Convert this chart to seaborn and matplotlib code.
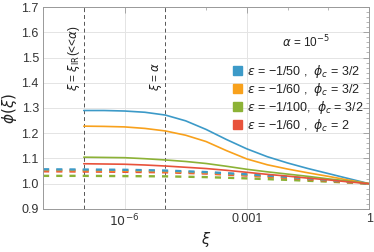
import numpy as np
import pandas as pd
import matplotlib
matplotlib.use("Agg")
import matplotlib.pyplot as plt
import matplotlib.ticker as mticker
import matplotlib.transforms as mtransforms
from matplotlib.patches import Patch
import seaborn as sns

log_xi_solid = [-7, -6.5, -6, -5.5, -5, -4.5, -4, -3.5, -3, -2.5, -2, -1.5, -1, -0.5, 0]
phi_blue = [1.290, 1.290, 1.288, 1.283, 1.272, 1.249, 1.215, 1.175, 1.138, 1.107, 1.082, 1.060, 1.040, 1.020, 1.000]
phi_orange = [1.228, 1.227, 1.225, 1.219, 1.209, 1.192, 1.167, 1.131, 1.098, 1.075, 1.058, 1.043, 1.029, 1.014, 1.000]
phi_green = [1.105, 1.104, 1.103, 1.099, 1.094, 1.088, 1.080, 1.069, 1.057, 1.047, 1.038, 1.029, 1.019, 1.010, 1.000]
phi_red = [1.079, 1.078, 1.077, 1.074, 1.070, 1.065, 1.060, 1.053, 1.045, 1.037, 1.030, 1.022, 1.015, 1.007, 1.000]

# dashed curves, one value per decade
log_xi_dashed = [-8, -7, -6, -5, -4, -3, -2, -1, 0]
dash_blue = [1.057, 1.056, 1.055, 1.052, 1.046, 1.037, 1.027, 1.015, 1.000]
dash_orange = [1.054, 1.053, 1.052, 1.049, 1.044, 1.035, 1.025, 1.014, 1.000]
dash_red = [1.049, 1.048, 1.047, 1.045, 1.040, 1.032, 1.023, 1.012, 1.000]
dash_green = [1.031, 1.031, 1.030, 1.029, 1.026, 1.021, 1.015, 1.008, 1.000]

labels = [r"$\epsilon$ = −1/50 ,  $\phi_c$ = 3/2",
          r"$\epsilon$ = −1/60 ,  $\phi_c$ = 3/2",
          r"$\epsilon$ = −1/100,  $\phi_c$ = 3/2",
          r"$\epsilon$ = −1/60 ,  $\phi_c$ = 2"]
colors = ["#3c9ac8", "#f8a11c", "#8cb236", "#e8523b"]

xi_ir = 1e-7
alpha = 1e-5

sns.set_style("white")
plt.rcParams['font.family'] = ['Liberation Sans', 'DejaVu Sans']
plt.rcParams['mathtext.fontset'] = 'dejavusans'

fig, ax = plt.subplots(figsize=(3.74, 2.52), dpi=100)
fig.subplots_adjust(left=0.115, right=0.987, top=0.972, bottom=0.171)

xs_s = np.power(10.0, log_xi_solid)
xs_d = np.power(10.0, log_xi_dashed)

# dashed first so the solid lines sit on top
for ys, c in zip([dash_green, dash_red, dash_orange, dash_blue],
                 [colors[2], colors[3], colors[1], colors[0]]):
    sns.lineplot(x=xs_d, y=ys, ax=ax, color=c, lw=1.7,
                 linestyle=(0, (2.6, 3.0)), sort=False)

for ys, c in zip([phi_blue, phi_orange, phi_green, phi_red], colors):
    sns.lineplot(x=xs_s, y=ys, ax=ax, color=c, lw=1.2, sort=False)

for xv in [xi_ir, alpha]:
    ax.axvline(xv, color="#555555", lw=0.7, linestyle=(0, (4, 3)), zorder=1)

ax.set_xscale("log")
ax.set_xlim(1e-8, 1)
ax.set_ylim(0.9, 1.7)

ax.xaxis.set_major_locator(mticker.FixedLocator([1e-6, 1e-3, 1]))
ax.xaxis.set_major_formatter(mticker.FixedFormatter([r"$10^{-6}$", "0.001", "1"]))
ax.xaxis.set_minor_locator(mticker.FixedLocator([1e-8, 1e-7, 1e-5, 1e-4, 1e-2, 1e-1]))
ax.xaxis.set_minor_formatter(mticker.NullFormatter())
ax.yaxis.set_major_locator(mticker.MultipleLocator(0.1))
ax.yaxis.set_major_formatter(mticker.FormatStrFormatter("%.1f"))
ax.yaxis.set_minor_locator(mticker.MultipleLocator(0.02))

ax.tick_params(which="both", direction="in", top=True, right=True,
               color="#999999", labelsize=9, labelcolor="#333333")
ax.tick_params(which="major", length=4, width=0.6, pad=3)
ax.tick_params(which="minor", length=2, width=0.5)
ax.grid(True, which="major", color="#e4e4e4", lw=0.7)
ax.set_axisbelow(True)
for sp in ax.spines.values():
    sp.set_color("#999999")
    sp.set_linewidth(0.7)

ax.set_xlabel(r"$\xi$", fontsize=10.5, color="#222222", labelpad=0)
ax.set_ylabel(r"$\phi(\xi)$", fontsize=11, color="#222222", labelpad=2)

trans = mtransforms.blended_transform_factory(ax.transData, ax.transAxes)
off = mtransforms.ScaledTranslation(-1.5 / 100, 0, fig.dpi_scale_trans)
ax.text(xi_ir, 0.585, r"$\xi$ = $\xi_{\rm IR}$(<<$\alpha$)", rotation=90,
        ha="right", va="bottom", fontsize=8.5, color="#222222",
        transform=trans + off)
ax.text(alpha, 0.585, r"$\xi$ = $\alpha$", rotation=90,
        ha="right", va="bottom", fontsize=8.5, color="#222222",
        transform=trans + off)

ax.text(0.805, 0.825, r"$\alpha$ = 10$^{-5}$", transform=ax.transAxes,
        ha="center", va="center", fontsize=8.5, color="#222222")

handles = [Patch(facecolor=c, edgecolor=c) for c in colors]
leg = ax.legend(handles, labels, loc="upper right", bbox_to_anchor=(1.005, 0.76),
                frameon=False, fontsize=9, handlelength=0.75, handleheight=0.75,
                handletextpad=0.35, labelspacing=0.08, borderaxespad=0.2)
for t in leg.get_texts():
    t.set_color("#222222")

plt.savefig("out.png", dpi=100)
plt.close()
